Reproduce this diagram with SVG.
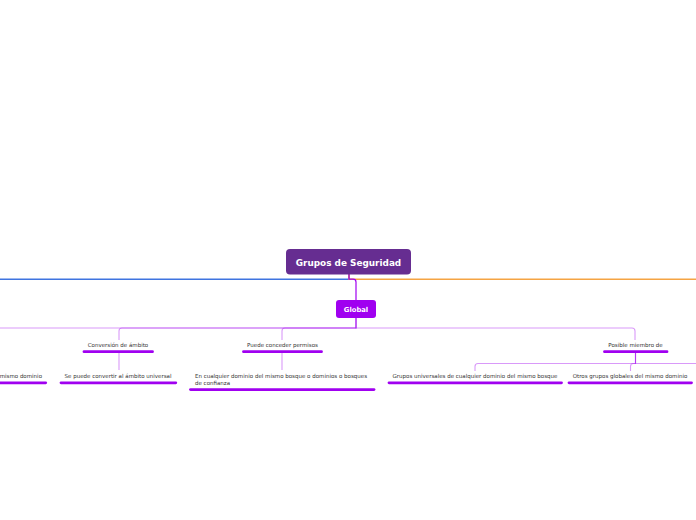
<svg xmlns="http://www.w3.org/2000/svg" width="696" height="520" viewBox="0 0 696 520">
<style>
.t{font-family:"DejaVu Sans","Verdana",sans-serif;font-size:5.5px;fill:#333}
.tm{text-anchor:middle}
.ul{stroke:#a000f0;stroke-width:2.8;stroke-linecap:round;fill:none}
.c{fill:none;stroke:#a000f0;stroke-opacity:0.4;stroke-width:1.1}
.hd{font-family:"DejaVu Sans","Verdana",sans-serif;font-weight:bold;fill:#fff;text-anchor:middle}
</style>
<rect width="696" height="520" fill="#fff"/>
<g id="connectors">
  <path d="M349,274 V279.2 H0" fill="none" stroke="#3f74e0" stroke-width="1.6"/>
  <path d="M349,274 V279.2 H696" fill="none" stroke="#f5a443" stroke-width="1.6"/>
  <path d="M349,274 V279.2 H353 Q356,279.2 356,282 V300" fill="none" stroke="#a000f0" stroke-width="1.2"/>
  <path d="M356,318 V328 H-10" class="c"/>
  <path d="M356,318 V328 H122 Q119,328 119,331 V340" class="c"/>
  <path d="M356,318 V328 H285 Q282,328 282,331 V340" class="c"/>
  <path d="M356,318 V328 H632 Q635,328 635,331 V340" class="c"/>
  <path d="M119,353 V370" class="c"/>
  <path d="M282,353 V370" class="c"/>
  <path d="M635.5,353 V363.5 H478 Q475,363.5 475,366.5 V371" class="c"/>
  <path d="M635.5,353 V363.5 H633.5 Q630.5,363.5 630.5,366.5 V371" class="c"/>
  <path d="M635.5,353 V363.5 H700" class="c"/>
</g>
<g id="root">
  <rect x="286" y="249" width="125" height="25.5" rx="4" fill="#662d91"/>
  <text x="348.5" y="266" class="hd" font-size="8.9">Grupos de Seguridad</text>
</g>
<g id="global">
  <rect x="336" y="300" width="40" height="18" rx="3" fill="#a000f0"/>
  <text x="356" y="311.5" class="hd" font-size="6.8">Global</text>
</g>
<g id="conversion">
  <text x="118" y="347" class="t tm">Conversión de ámbito</text>
  <line x1="84" y1="351.7" x2="152.5" y2="351.7" class="ul"/>
</g>
<g id="puede">
  <text x="282.5" y="347" class="t tm">Puede conceder permisos</text>
  <line x1="243.5" y1="351.7" x2="321.5" y2="351.7" class="ul"/>
</g>
<g id="posible">
  <text x="635.5" y="347" class="t tm">Posible miembro de</text>
  <line x1="604.5" y1="351.7" x2="667" y2="351.7" class="ul"/>
</g>
<g id="mismo-dominio-left">
  <text x="42" y="378.3" class="t" text-anchor="end">mismo dominio</text>
  <line x1="-5" y1="382.8" x2="45.7" y2="382.8" class="ul"/>
</g>
<g id="se-puede">
  <text x="118" y="378.3" class="t tm">Se puede convertir al ámbito universal</text>
  <line x1="61" y1="382.8" x2="175.8" y2="382.8" class="ul"/>
</g>
<g id="en-cualquier">
  <text x="195" y="378.3" class="t">En cualquier dominio del mismo bosque o dominios o bosques</text>
  <text x="195" y="385" class="t">de confianza</text>
  <line x1="190.5" y1="389.6" x2="374" y2="389.6" class="ul"/>
</g>
<g id="grupos-universales">
  <text x="475" y="378.3" class="t tm">Grupos universales de cualquier dominio del mismo bosque</text>
  <line x1="389" y1="382.8" x2="561.5" y2="382.8" class="ul"/>
</g>
<g id="otros-grupos">
  <text x="630" y="378.3" class="t tm">Otros grupos globales del mismo dominio</text>
  <line x1="569" y1="382.8" x2="691.5" y2="382.8" class="ul"/>
</g>
</svg>
